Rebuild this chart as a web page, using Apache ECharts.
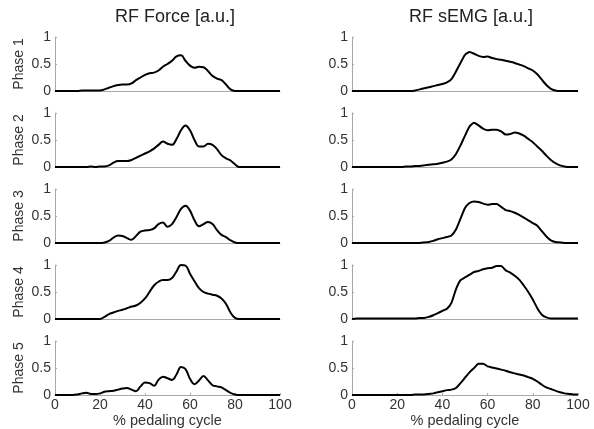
<!DOCTYPE html>
<html><head><meta charset="utf-8">
<script src="https://cdn.jsdelivr.net/npm/echarts@6/dist/echarts.min.js"></script>
<style>html,body{margin:0;padding:0;background:#fff}#c{width:594px;height:429px}</style>
</head><body><div id="c"></div>
<script>
const xValues = [0,2,4,6,8,10,12,14,16,18,20,22,24,26,28,30,32,34,36,38,40,42,44,46,48,50,52,54,56,58,60,62,64,66,68,70,72,74,76,78,80,82,84,86,88,90,92,94,96,98,100];
const xTicks = [0,20,40,60,80,100];
const yTicks = [0,0.5,1];
const phaseLabels = ['Phase 1','Phase 2','Phase 3','Phase 4','Phase 5'];
const columnTitles = ['RF Force [a.u.]','RF sEMG [a.u.]'];
const xAxisTitle = '% pedaling cycle';

const force1 = [0,0,0,0,0,0,0.01,0.01,0.01,0.01,0.01,0.03,0.06,0.09,0.11,0.12,0.12,0.14,0.2,0.25,0.3,0.33,0.34,0.38,0.45,0.5,0.56,0.64,0.66,0.56,0.47,0.43,0.45,0.44,0.37,0.28,0.23,0.2,0.12,0.03,0,0,0,0,0,0,0,0,0,0,0];
const force2 = [0,0,0,0,0,0,0,0,0.01,0,0.01,0.01,0.03,0.08,0.11,0.11,0.11,0.13,0.17,0.21,0.25,0.29,0.34,0.41,0.47,0.43,0.41,0.52,0.68,0.77,0.68,0.5,0.38,0.38,0.43,0.41,0.33,0.22,0.16,0.12,0.05,0,0,0,0,0,0,0,0,0,0];
const force3 = [0,0,0,0,0,0,0,0,0,0,0,0.01,0.04,0.1,0.14,0.13,0.09,0.06,0.13,0.21,0.23,0.24,0.27,0.35,0.38,0.3,0.35,0.48,0.63,0.69,0.6,0.42,0.31,0.35,0.39,0.35,0.24,0.15,0.11,0.05,0.01,0,0,0,0,0,0,0,0,0,0];
const force4 = [0,0,0,0,0,0,0,0,0,0,0,0.04,0.09,0.12,0.15,0.17,0.2,0.23,0.25,0.3,0.38,0.5,0.62,0.69,0.72,0.72,0.76,0.88,1.0,0.99,0.84,0.7,0.57,0.5,0.47,0.45,0.43,0.38,0.28,0.12,0.02,0,0,0,0,0,0,0,0,0,0];
const force5 = [0,0,0,0,0,0.01,0.03,0.04,0.02,0.02,0.03,0.06,0.07,0.08,0.1,0.12,0.13,0.1,0.07,0.16,0.23,0.22,0.17,0.28,0.34,0.31,0.28,0.38,0.52,0.48,0.3,0.2,0.27,0.35,0.27,0.18,0.16,0.14,0.09,0.04,0.01,0,0,0,0,0,0,0,0,0,0];

const emg1 = [0,0,0,0,0,0,0,0,0,0,0,0,0,0,0.01,0.03,0.05,0.07,0.09,0.11,0.13,0.16,0.22,0.36,0.52,0.67,0.72,0.69,0.65,0.63,0.64,0.61,0.59,0.58,0.56,0.54,0.52,0.49,0.46,0.42,0.38,0.31,0.21,0.11,0.04,0.01,0,0,0,0,0];
const emg2 = [0,0,0,0,0,0,0,0,0,0,0,0,0.01,0.01,0.02,0.02,0.03,0.04,0.05,0.06,0.08,0.1,0.14,0.24,0.4,0.58,0.75,0.82,0.77,0.71,0.68,0.69,0.69,0.66,0.6,0.61,0.64,0.62,0.58,0.52,0.46,0.38,0.3,0.21,0.13,0.07,0.03,0.01,0,0,0];
const emg3 = [0,0,0,0,0,0,0,0,0,0,0,0,0,0,0,0,0.01,0.02,0.04,0.07,0.09,0.11,0.14,0.25,0.45,0.65,0.74,0.77,0.76,0.73,0.71,0.72,0.72,0.67,0.61,0.59,0.56,0.52,0.47,0.42,0.37,0.32,0.22,0.12,0.05,0.02,0.01,0,0,0,0];
const emg4 = [0,0.01,0.01,0.01,0.01,0.01,0.01,0.01,0.01,0.01,0.01,0.01,0.01,0.01,0.01,0.02,0.02,0.04,0.07,0.11,0.15,0.19,0.3,0.55,0.72,0.77,0.82,0.87,0.89,0.92,0.94,0.95,0.98,0.98,0.9,0.86,0.8,0.73,0.62,0.5,0.36,0.2,0.08,0.03,0.01,0.01,0.01,0.01,0.01,0.01,0.01];
const emg5 = [0,0,0,0,0,0,0,0,0,0,0,0,0,0,0.01,0.01,0.01,0.02,0.03,0.05,0.07,0.09,0.1,0.13,0.22,0.32,0.42,0.5,0.58,0.58,0.53,0.51,0.49,0.47,0.45,0.42,0.4,0.38,0.36,0.33,0.3,0.25,0.19,0.14,0.11,0.08,0.05,0.03,0.02,0.01,0.01];

const forceSeries = [force1,force2,force3,force4,force5];
const emgSeries = [emg1,emg2,emg3,emg4,emg5];

const FONT = 'Liberation Sans';
const tops = [37,113,189,265,341];
const H = 54;
const cols = [{left:55,width:225},{left:352,width:226}];

const grid=[],xAxis=[],yAxis=[],series=[];
let gi=0;
for(let c=0;c<2;c++){
  for(let r=0;r<5;r++){
    grid.push({left:cols[c].left,top:tops[r],width:cols[c].width,height:H,outerBoundsMode:'none',containLabel:false});
    const bottom = r===4;
    xAxis.push({type:'value',gridIndex:gi,min:0,max:100,interval:20,
      axisLine:{show:true,lineStyle:{color:'#a8a8a8',width:1}},
      axisTick:{show:bottom,inside:true,length:2,lineStyle:{color:'#a8a8a8'}},
      axisLabel:{show:bottom,color:'#333',fontFamily:FONT,fontSize:14,margin:3,
        formatter:v=>xTicks.includes(v)?String(v):''},
      splitLine:{show:false},
      name: bottom? xAxisTitle:'', nameLocation:'middle', nameGap:18,
      nameTextStyle:{color:'#333',fontFamily:FONT,fontSize:14.5}});
    yAxis.push({type:'value',gridIndex:gi,min:0,max:1,interval:0.5,
      axisLine:{show:true,lineStyle:{color:'#a8a8a8',width:1}},
      axisTick:{show:true,inside:true,length:2,lineStyle:{color:'#a8a8a8'}},
      axisLabel:{color:'#333',fontFamily:FONT,fontSize:14,margin:4,
        formatter:v=>yTicks.includes(v)?String(v):''},
      splitLine:{show:false},
      name: c===0? phaseLabels[r]:'', nameLocation:'middle', nameRotate:90, nameGap:29,
      nameTextStyle:{color:'#333',fontFamily:FONT,fontSize:14}});
    const data = (c===0?forceSeries:emgSeries)[r].map((v,i)=>[xValues[i],v]);
    series.push({type:'line',xAxisIndex:gi,yAxisIndex:gi,data,showSymbol:false,
      smooth: c===0?0.4:0.2, lineStyle:{color:'#000',width:2},silent:true,animation:false});
    gi++;
  }
}
const chart = echarts.init(document.getElementById('c'),null,{renderer:'canvas'});
chart.setOption({
  animation:false,
  backgroundColor:'#fff',
  title:[
    {text:columnTitles[0],left:170,top:3,textAlign:'center',textStyle:{fontFamily:FONT,fontSize:18,fontWeight:'normal',color:'#222'}},
    {text:columnTitles[1],left:466,top:3,textAlign:'center',textStyle:{fontFamily:FONT,fontSize:18,fontWeight:'normal',color:'#222'}}
  ],
  grid,xAxis,yAxis,series
});
</script></body></html>
